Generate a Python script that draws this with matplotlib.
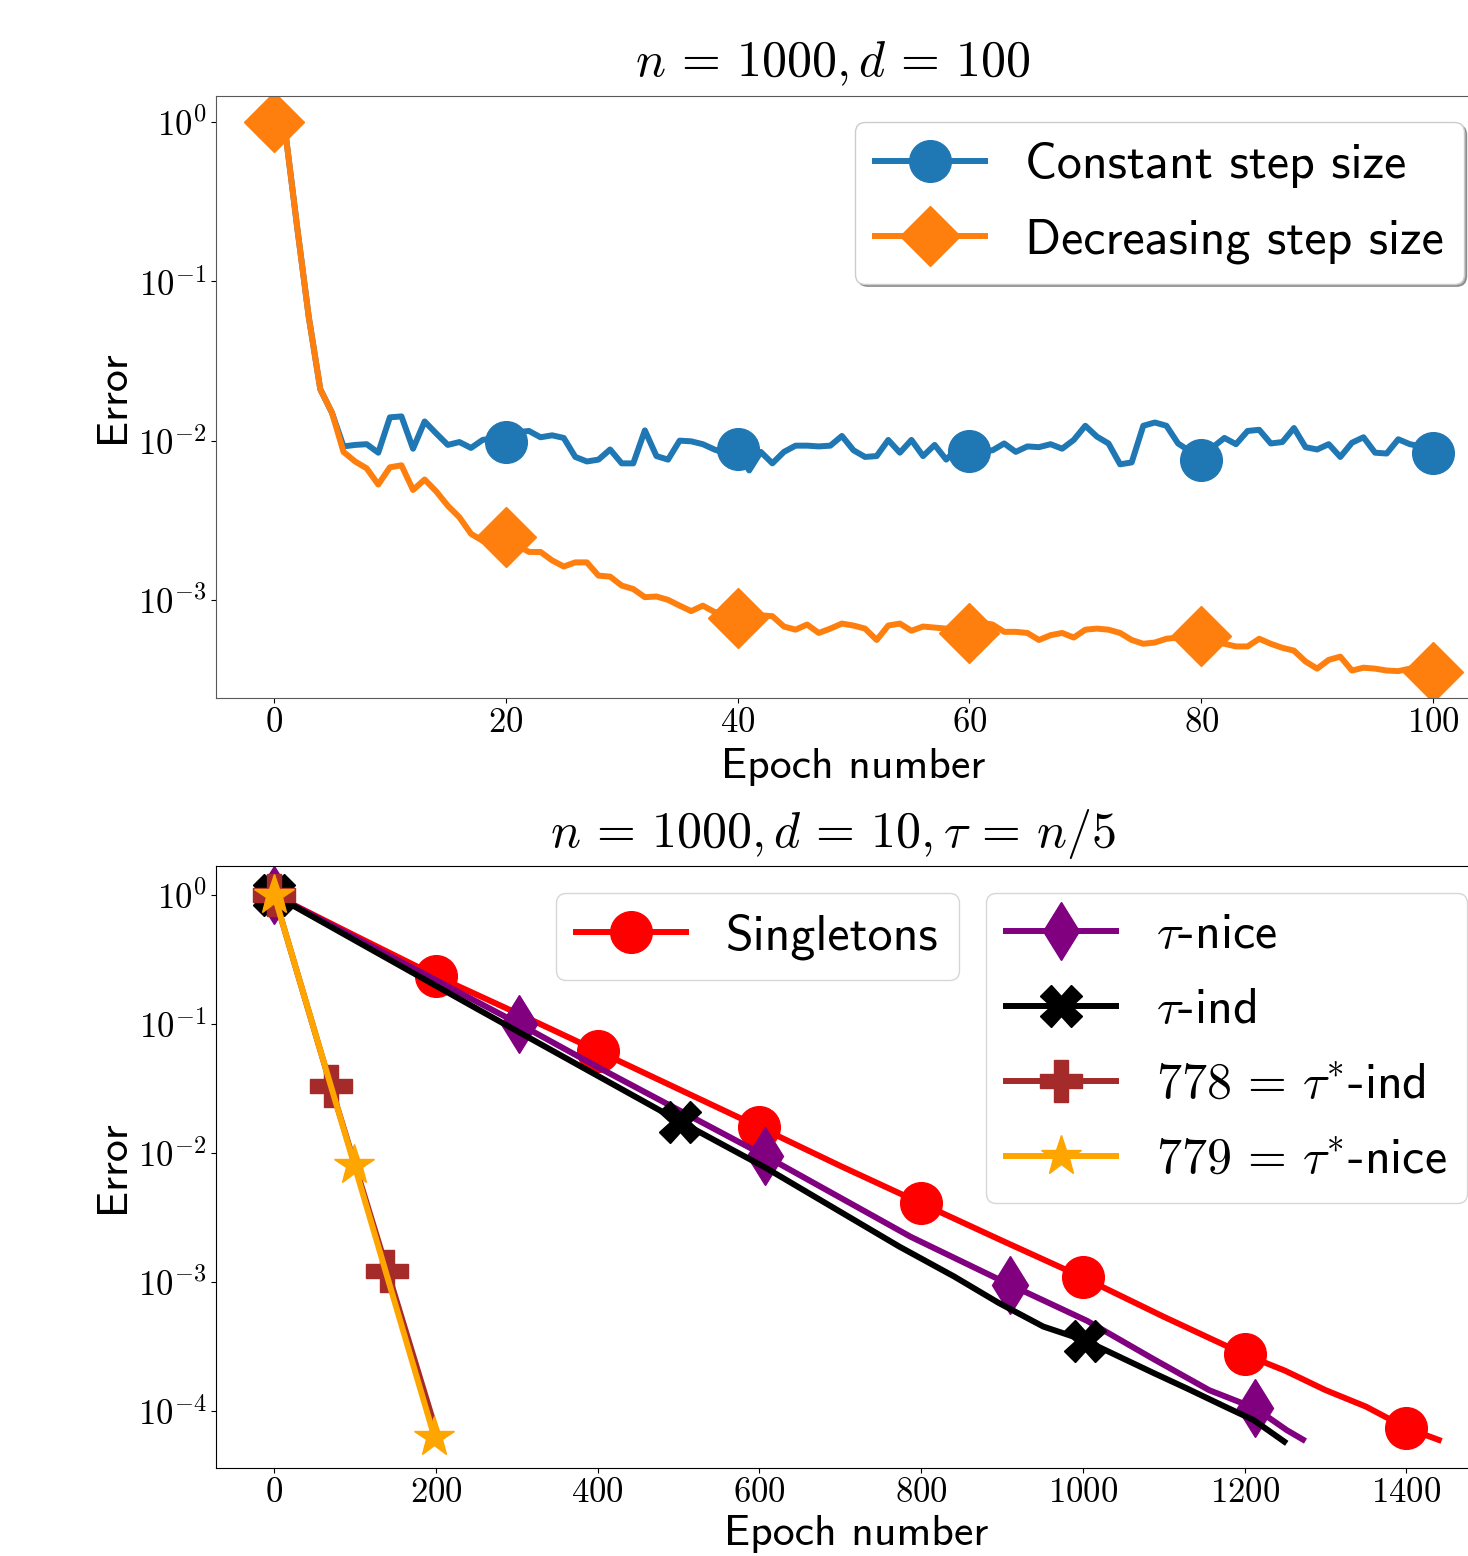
import matplotlib
matplotlib.use("Agg")
import matplotlib.pyplot as plt
import numpy as np

plt.rcParams['font.family'] = 'cmr10'
plt.rcParams['mathtext.fontset'] = 'cm'
plt.rcParams['axes.formatter.use_mathtext'] = True
plt.rcParams['axes.unicode_minus'] = True

# ---- top panel: n=1000, d=100 ----
epochs = np.arange(0, 101)
const_err = [1.0, 0.85, 0.22, 0.06, 0.021, 0.015, 0.0092, 0.0094, 0.0095, 0.0084,
             0.0140, 0.0142, 0.0089, 0.0132, 0.0111, 0.0094, 0.0098, 0.0090, 0.0101, 0.0104,
             0.0098, 0.0113, 0.0115, 0.0105, 0.0108, 0.0104, 0.0079, 0.0074, 0.0076, 0.0088,
             0.0072, 0.0072, 0.0116, 0.0080, 0.0076, 0.0100, 0.0099, 0.0095, 0.0088, 0.0083,
             0.0088, 0.0065, 0.0085, 0.0072, 0.0085, 0.0093, 0.0093, 0.0092, 0.0093, 0.0107,
             0.0087, 0.0079, 0.0080, 0.0101, 0.0084, 0.0101, 0.0080, 0.0094, 0.0076, 0.0090,
             0.0086, 0.0086, 0.0087, 0.0096, 0.0085, 0.0092, 0.0091, 0.0095, 0.0089, 0.0101,
             0.0124, 0.0106, 0.0096, 0.0071, 0.0073, 0.0124, 0.0130, 0.0124, 0.0096, 0.0086,
             0.0076, 0.0091, 0.0104, 0.0095, 0.0115, 0.0117, 0.0096, 0.0098, 0.0120, 0.0091,
             0.0088, 0.0095, 0.0079, 0.0097, 0.0105, 0.0084, 0.0083, 0.0102, 0.0095, 0.0092,
             0.0084]
decr_err = [1.0, 0.85, 0.22, 0.06, 0.021, 0.015, 0.0085, 0.0074, 0.0067, 0.0053,
            0.0068, 0.0070, 0.0049, 0.0057, 0.0048, 0.0039, 0.0033, 0.0026, 0.00235, 0.0024,
            0.0025, 0.0022, 0.0020, 0.0020, 0.00177, 0.00162, 0.00172, 0.00172, 0.00142, 0.0014,
            0.00123, 0.00117, 0.00104, 0.00105, 0.00100, 0.00092, 0.00085, 0.00092, 0.00084, 0.00082,
            0.00077, 0.00082, 0.00080, 0.00079, 0.00068, 0.00065, 0.00070, 0.00062, 0.00066, 0.00071,
            0.00069, 0.00066, 0.00056, 0.00069, 0.00071, 0.00064, 0.00068, 0.00067, 0.00066, 0.00064,
            0.00062, 0.00072, 0.00070, 0.00063, 0.00063, 0.00062, 0.00056, 0.00060, 0.00062, 0.00058,
            0.00065, 0.00066, 0.00065, 0.00062, 0.00056, 0.00053, 0.00054, 0.00057, 0.00058, 0.00060,
            0.00059, 0.00055, 0.00053, 0.00051, 0.00051, 0.00057, 0.00053, 0.00050, 0.00048, 0.00041,
            0.00037, 0.00042, 0.00044, 0.00036, 0.000375, 0.00037, 0.00036, 0.000357, 0.00037, 0.00036,
            0.000355]

# ---- bottom panel: n=1000, d=10, tau=n/5 ----
single_x = [0, 100, 200, 300, 400, 500, 600, 700, 800, 900, 1000, 1100, 1200, 1250, 1300, 1350, 1400, 1440]
single_err = [1.0, 0.484, 0.236, 0.1216, 0.0618, 0.0313, 0.01585, 0.00794, 0.00407, 0.00209,
              0.001084, 0.000537, 0.000274, 0.000205, 0.000145, 0.000108, 7.38e-5, 5.96e-5]
nice_x = [0, 303, 403, 607, 787, 910, 1005, 1088, 1156, 1213, 1252, 1272]
nice_err = [1.0, 0.1, 0.0453, 0.0095, 0.00224, 0.00095, 0.0005, 0.000251, 0.000145, 0.000105, 7.1e-5, 6.0e-5]
ind_x = [0, 250, 502, 608, 773, 841, 896, 951, 1003, 1088, 1129, 1177, 1211, 1249]
ind_err = [1.0, 0.132, 0.0175, 0.00766, 0.00188, 0.0011, 0.000687, 0.000451, 0.000351, 0.000196,
           0.000149, 0.000107, 8.5e-5, 5.78e-5]
opt_ind_x = [0, 70, 140, 205]
opt_ind_err = [1.0, 0.0331, 0.00122, 5.6e-5]
opt_nice_x = [0, 99, 198]
opt_nice_err = [1.0, 0.0081, 6.3e-5]

W, H = 1468, 1556
fig = plt.figure(figsize=(W / 100, H / 100), dpi=100)

ax1 = fig.add_axes([216 / W, (H - 698) / H, 1275 / W, 602 / H])
ax2 = fig.add_axes([216 / W, (H - 1468) / H, 1281 / W, 602 / H])

ms = 30
lw = 4.3
sans = {'family': 'cmss10'}
legprop = {'family': 'cmss10', 'size': 36}

ax1.plot(epochs, const_err, color='tab:blue', marker='o', ms=ms, lw=lw, markevery=20,
         label='Constant step size')
ax1.plot(epochs, decr_err, color='tab:orange', marker='D', ms=31, lw=lw, markevery=20,
         label='Decreasing step size')
ax1.set_yscale('log')
ax1.set_xlim(-5, 105)
ax1.set_ylim(2.42e-4, 1.46)
ax1.set_xticks([0, 20, 40, 60, 80, 100])
ax1.minorticks_off()
ax1.set_title(r'$n \,=\, 1000, d \,=\, 100$', fontsize=36, x=0.484, pad=14)
ax1.set_xlabel('Epoch number', fontsize=31.5, labelpad=6, **sans)
ax1.set_ylabel('Error', fontsize=31.5, **sans)
leg1 = ax1.legend(loc='upper left', bbox_to_anchor=(855 / W, (H - 122) / H),
                  bbox_transform=fig.transFigure, borderaxespad=0, shadow=True,
                  prop=legprop, handlelength=2.2, labelspacing=0.6)
for s in ax1.spines.values():
    s.set_color('0.35')

ax2.plot(single_x, single_err, color='red', marker='o', ms=ms, lw=lw,
         markevery=[0, 2, 4, 6, 8, 10, 12, 16], label='Singletons')
ax2.plot(nice_x, nice_err, color='purple', marker='d', ms=ms, lw=lw,
         markevery=[0, 1, 3, 5, 9], label=r'$\tau$-nice')
ax2.plot(ind_x, ind_err, color='black', marker='X', ms=ms, lw=lw,
         markevery=[0, 2, 8], label=r'$\tau$-ind')
ax2.plot(opt_ind_x, opt_ind_err, color='brown', marker='P', ms=ms, lw=lw,
         markevery=[0, 1, 2], label=r'$778 \,=\, \tau^{*}$-ind')
ax2.plot(opt_nice_x, opt_nice_err, color='orange', marker='*', ms=ms, lw=lw,
         label=r'$779 \,=\, \tau^{*}$-nice')
ax2.set_yscale('log')
ax2.set_xlim(-72, 1512)
ax2.set_ylim(3.61e-5, 1.68)
ax2.set_xticks([0, 200, 400, 600, 800, 1000, 1200, 1400])
ax2.minorticks_off()
ax2.set_title(r'$n \,=\, 1000, d \,=\, 10, \tau \,=\, n/5$', fontsize=36,
              x=(833 - 216) / 1281, pad=14)
ax2.set_xlabel('Epoch number', fontsize=31.5, labelpad=4, **sans)
ax2.set_ylabel('Error', fontsize=31.5, **sans)

h, l = ax2.get_legend_handles_labels()
legA = ax2.legend(h[:1], l[:1], loc='upper left', bbox_to_anchor=(556 / W, (H - 893) / H),
                  bbox_transform=fig.transFigure, borderaxespad=0,
                  prop=legprop, handlelength=2.2, labelspacing=0.6)
ax2.add_artist(legA)
legB = ax2.legend(h[1:], l[1:], loc='upper left', bbox_to_anchor=(986 / W, (H - 893) / H),
                  bbox_transform=fig.transFigure, borderaxespad=0,
                  prop=legprop, handlelength=2.2, labelspacing=0.6)

for ax in (ax1, ax2):
    ax.tick_params(labelsize=25)

fig.savefig('out.png', dpi=100)
